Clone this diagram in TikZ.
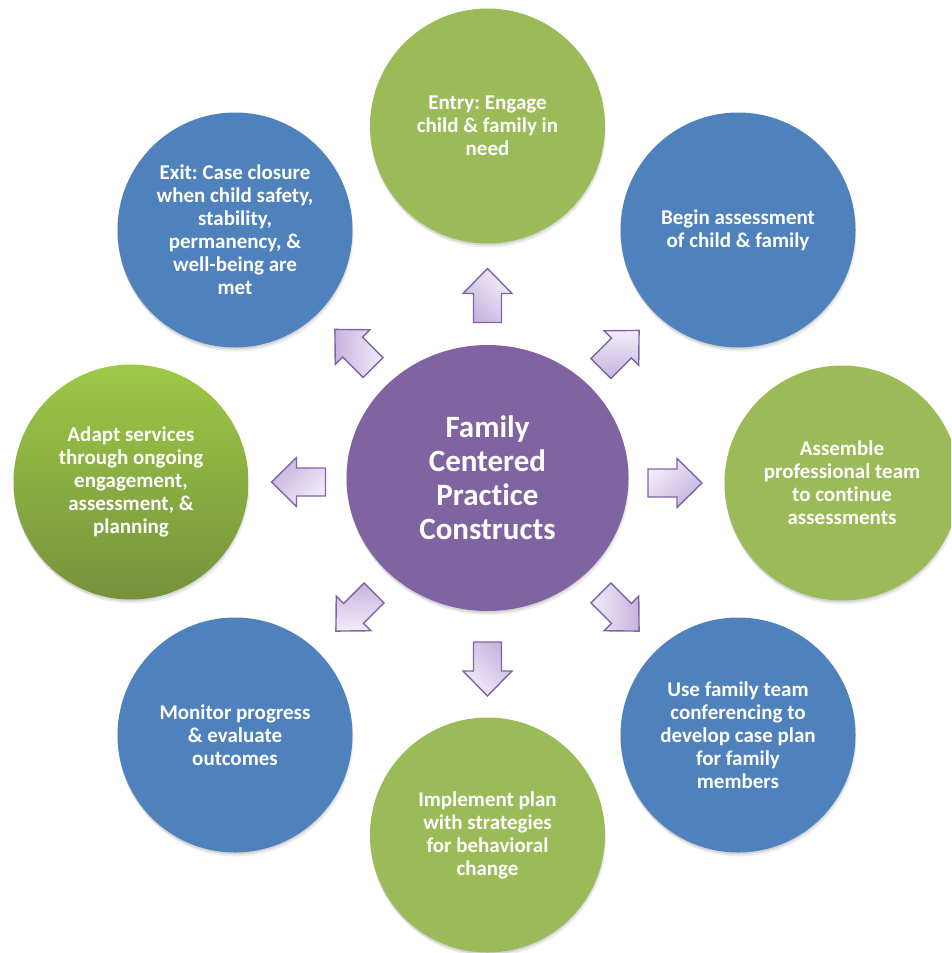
\documentclass[tikz,border=0pt]{standalone}
\usepackage{fontspec}
\setmainfont{Carlito}[Ligatures={NoCommon}]
\usetikzlibrary{shapes.geometric,shadows}
\definecolor{fgreen}{HTML}{9BBB59}
\definecolor{fblue}{HTML}{4F81BD}
\definecolor{fpurple}{HTML}{8064A2}
\definecolor{lgtop}{HTML}{9DC846}
\definecolor{lgbot}{HTML}{76923C}
\definecolor{lavlight}{HTML}{F2EDF9}
\definecolor{lavdark}{HTML}{C6B3E0}
\definecolor{lavline}{HTML}{8064A2}
\tikzset{
 softshadow/.style={general shadow={fill=black,opacity=0.07,shadow yshift=-4pt,shadow xshift=1pt},
                    general shadow={fill=black,opacity=0.10,shadow yshift=-2pt}},
 stage/.style={circle, minimum size=235pt, inner sep=0pt, text=white,
   font=\frenchspacing\bfseries\fontsize{21}{23}\selectfont, align=center, softshadow},
 gstage/.style={stage, fill=fgreen},
 bstage/.style={stage, fill=fblue},
 hub/.style={ellipse, minimum width=282pt, minimum height=266pt, inner sep=0pt,
   fill=fpurple, text=white, font=\frenchspacing\bfseries\fontsize{31}{34}\selectfont, align=center, softshadow},
 barrow/.pic={\path[rotate=#1, draw=lavline, line width=1.4pt, line join=miter,
   top color=lavlight, bottom color=lavdark, shading angle={45-#1}]
   (-27,-14) -- (2,-14) -- (2,-24.5) -- (27,0) -- (2,24.5) -- (2,14) -- (-27,14) -- cycle;}
}
\begin{document}
\begin{tikzpicture}[x=1pt,y=1pt]
\path[use as bounding box] (0,0) rectangle (951,-953);
\clip (0,0) rectangle (951,-953);
\node[hub] (hub) at (487.5,-478) {Family\\Centered\\Practice\\Constructs};
\node[gstage] (entry) at (487.5,-126) {Entry: Engage\\child \& family in\\need};
\node[bstage] (begin) at (738,-230) {Begin assessment\\of child \& family};
\node[gstage] (team) at (842,-483) {Assemble\\professional team\\to continue\\assessments};
\node[bstage] (conf) at (738,-735) {Use family team\\conferencing to\\develop case plan\\for family\\members};
\node[gstage] (impl) at (487.5,-835) {Implement plan\\with strategies\\for behavioral\\change};
\node[bstage] (monitor) at (235,-735) {Monitor progress\\\& evaluate\\outcomes};
\node[stage, top color=lgtop, bottom color=lgbot] (adapt) at (131,-482) {Adapt services\\through ongoing\\engagement,\\assessment, \&\\planning};
\node[bstage] (exit) at (235,-230) {Exit: Case closure\\when child safety,\\stability,\\permanency, \&\\well-being are\\met};
\pic at (487.5,-295.5) {barrow=90};
\pic at (487.5,-669) {barrow=-90};
\pic at (298.5,-482) {barrow=180};
\pic at (675,-483) {barrow=0};
\pic at (354,-348.5) {barrow=135};
\pic at (620,-349.5) {barrow=45};
\pic at (355,-612) {barrow=-135};
\pic at (620,-612) {barrow=-45};
\end{tikzpicture}
\end{document}
